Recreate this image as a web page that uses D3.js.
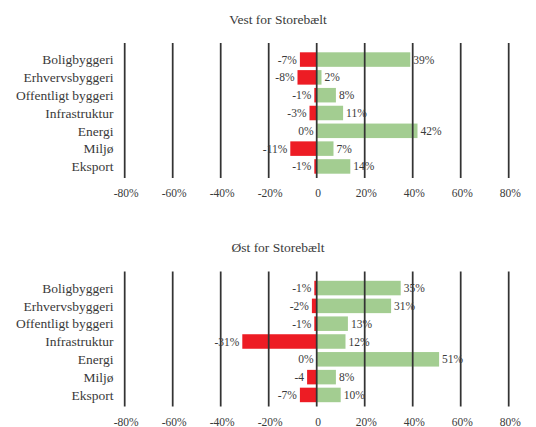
<!DOCTYPE html>
<html>
<head>
<meta charset="utf-8">
<script src="https://cdn.jsdelivr.net/npm/d3@7"></script>
<style>
  html, body { margin: 0; padding: 0; background: #fff; }
  svg text { font-family: 'Liberation Serif', 'Times New Roman', 'DejaVu Serif', serif; }
</style>
</head>
<body>
<div id="chart"></div>
<script>
// Categories shared by both panels
const categories = ['Boligbyggeri', 'Erhvervsbyggeri', 'Offentligt byggeri', 'Infrastruktur', 'Energi', 'Miljø', 'Eksport'];

// Vest for Storebælt
const vestNeg = [-7, -8, -1, -3, 0, -11, -1];
const vestPos = [39, 2, 8, 11, 42, 7, 14];
const vestNegLabels = ['-7%', '-8%', '-1%', '-3%', '0%', '-11%', '-1%'];
const vestPosLabels = ['39%', '2%', '8%', '11%', '42%', '7%', '14%'];

// Øst for Storebælt
const ostNeg = [-1, -2, -1, -31, 0, -4, -7];
const ostPos = [35, 31, 13, 12, 51, 8, 10];
const ostNegLabels = ['-1%', '-2%', '-1%', '-31%', '0%', '-4', '-7%'];
const ostPosLabels = ['35%', '31%', '13%', '12%', '51%', '8%', '10%'];

const tickValues = [-80, -60, -40, -20, 0, 20, 40, 60, 80];
const tickLabels = ['-80%', '-60%', '-40%', '-20%', '0', '20%', '40%', '60%', '80%'];

const panels = [
  { title: 'Vest for Storebælt', neg: vestNeg, pos: vestPos, negLabels: vestNegLabels, posLabels: vestPosLabels, offset: 0 },
  { title: 'Øst for Storebælt', neg: ostNeg, pos: ostPos, negLabels: ostNegLabels, posLabels: ostPosLabels, offset: 228.5 }
];

const width = 536, height = 427;
const RED = '#ED1C24', GREEN = '#A3CD91', INK = '#3a3a3a', GRID = '#333';
const FONT = "'Liberation Serif', 'Times New Roman', 'DejaVu Serif', serif";

const svg = d3.select('#chart').append('svg')
  .attr('width', width)
  .attr('height', height)
  .attr('font-family', FONT);

const x = d3.scaleLinear().domain([-80, 80]).range([124.7, 508.7]);

panels.forEach(p => {
  const g = svg.append('g').attr('transform', `translate(0,${p.offset})`);

  const y = d3.scaleBand()
    .domain(categories)
    .range([50.7, 175.3])
    .paddingInner(0.185)
    .paddingOuter(0.09);

  // title
  g.append('text')
    .attr('x', 278)
    .attr('y', 19)
    .attr('dy', '0.35em')
    .attr('text-anchor', 'middle')
    .attr('fill', INK)
    .attr('font-family', FONT)
    .attr('font-size', 13.5)
    .text(p.title);

  // category labels
  g.selectAll('.cat')
    .data(categories)
    .enter()
    .append('text')
    .attr('class', 'cat')
    .attr('x', 113.5)
    .attr('y', d => y(d) + y.bandwidth() / 2)
    .attr('dy', '0.35em')
    .attr('text-anchor', 'end')
    .attr('fill', INK)
    .attr('font-family', FONT)
    .attr('font-size', 13.5)
    .text(d => d);

  // negative bars
  g.selectAll('.neg')
    .data(categories)
    .enter()
    .append('rect')
    .attr('class', 'neg')
    .attr('x', (d, i) => x(p.neg[i]))
    .attr('y', d => y(d))
    .attr('width', (d, i) => x(0) - x(p.neg[i]))
    .attr('height', y.bandwidth())
    .attr('fill', RED);

  // positive bars
  g.selectAll('.pos')
    .data(categories)
    .enter()
    .append('rect')
    .attr('class', 'pos')
    .attr('x', x(0))
    .attr('y', d => y(d))
    .attr('width', (d, i) => x(p.pos[i]) - x(0))
    .attr('height', y.bandwidth())
    .attr('fill', GREEN);

  // gridlines sit on top of the bars
  g.selectAll('.grid')
    .data(tickValues)
    .enter()
    .append('line')
    .attr('class', 'grid')
    .attr('x1', d => x(d))
    .attr('x2', d => x(d))
    .attr('y1', 43)
    .attr('y2', 178)
    .attr('stroke', GRID)
    .attr('stroke-width', 1.75);

  // value labels
  g.selectAll('.negLab')
    .data(categories)
    .enter()
    .append('text')
    .attr('class', 'negLab')
    .attr('x', (d, i) => x(p.neg[i]) - 3)
    .attr('y', d => y(d) + y.bandwidth() / 2)
    .attr('dy', '0.35em')
    .attr('text-anchor', 'end')
    .attr('fill', INK)
    .attr('font-family', FONT)
    .attr('font-size', 11.5)
    .text((d, i) => p.negLabels[i]);

  g.selectAll('.posLab')
    .data(categories)
    .enter()
    .append('text')
    .attr('class', 'posLab')
    .attr('x', (d, i) => x(p.pos[i]) + 3)
    .attr('y', d => y(d) + y.bandwidth() / 2)
    .attr('dy', '0.35em')
    .attr('fill', INK)
    .attr('font-family', FONT)
    .attr('font-size', 11.5)
    .text((d, i) => p.posLabels[i]);

  // x axis tick labels
  g.selectAll('.tick')
    .data(tickValues)
    .enter()
    .append('text')
    .attr('class', 'tick')
    .attr('x', d => x(d) + 1.5)
    .attr('y', 193)
    .attr('dy', '0.35em')
    .attr('text-anchor', 'middle')
    .attr('fill', INK)
    .attr('font-family', FONT)
    .attr('font-size', 11.5)
    .text((d, i) => tickLabels[i]);
});
</script>
</body>
</html>
